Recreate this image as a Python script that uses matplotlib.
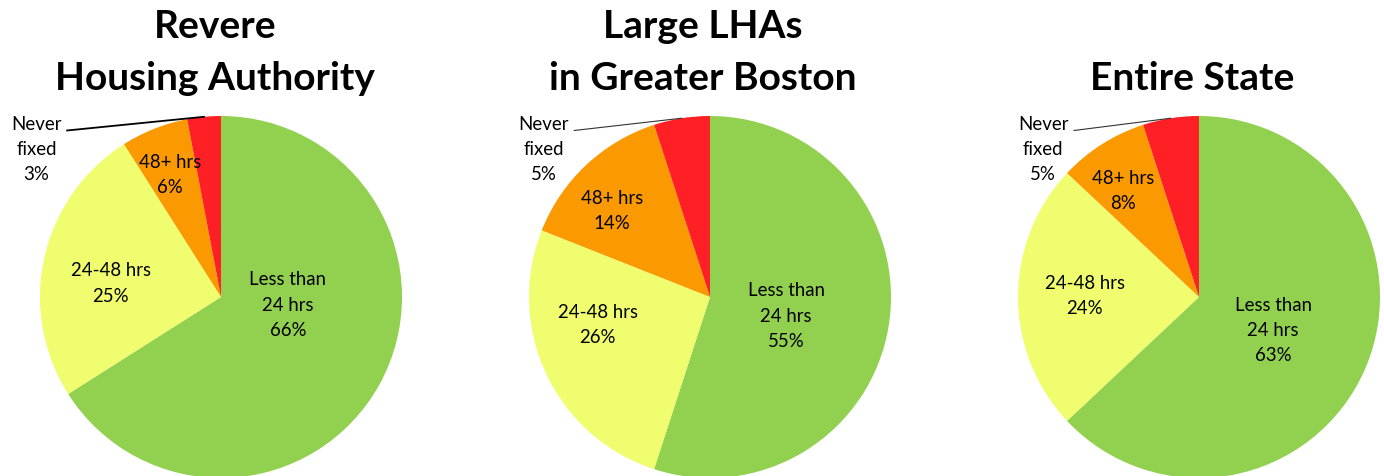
import numpy as np
import matplotlib.pyplot as plt

categories = ['Less than\n24 hrs', '24-48 hrs', '48+ hrs', 'Never\nfixed']
colors = ['#92D050', '#EFFD6E', '#FA9A00', '#FF2026']

revere = [66, 25, 6, 3]
boston = [55, 26, 14, 5]
state = [63, 24, 8, 5]
titles = [['Revere', 'Housing Authority'], ['Large LHAs', 'in Greater Boston'], ['Entire State']]

# label spots in radius units, Excel "best fit" style
label_pos = [
    [(0.37, -0.04), (-0.61, 0.08), (-0.28, 0.68), (-1.02, 0.82)],
    [(0.42, -0.10), (-0.62, -0.15), (-0.54, 0.48), (-0.92, 0.82)],
    [(0.41, -0.18), (-0.63, 0.01), (-0.42, 0.59), (-0.86, 0.82)],
]
centers_px = [221, 710, 1199]

W, H = 1384, 477
fig = plt.figure(figsize=(W / 100, H / 100), dpi=100)
plt.rcParams['font.family'] = ['Lato', 'DejaVu Sans']

r = 181
cy = H - 298
for i, vals in enumerate([revere, boston, state]):
    ax = fig.add_axes([(centers_px[i] - r) / W, (cy - r) / H, 2 * r / W, 2 * r / H])
    ax.pie(vals, colors=colors, startangle=90, counterclock=False,
           wedgeprops=dict(linewidth=0))
    ax.set_xlim(-1, 1)
    ax.set_ylim(-1, 1)
    ax.set_aspect('equal')
    for j, v in enumerate(vals):
        x, y = label_pos[i][j]
        ax.text(x, y, '%s\n%d%%' % (categories[j], v), ha='center', va='center',
                fontsize=13.4, linespacing=1.6, clip_on=False)
    # leader line for the tiny red slice
    a0 = 90 - 3.6 * sum(vals[:3])
    mid = np.deg2rad(a0 - 1.8 * vals[3])
    lx, ly = label_pos[i][3]
    ax.plot([lx + 0.17, np.cos(mid)], [ly + 0.1, np.sin(mid)],
            color='black' if i == 0 else '#333333', lw=1.3 if i == 0 else 0.8,
            clip_on=False)

title_x = [215, 703, 1192]
for i, t in enumerate(titles):
    # last line always sits at y=78 px, the one above at y=27 px
    for k, line in enumerate(t[::-1]):
        fig.text(title_x[i] / W, (H - 78 + 51 * k) / H, line, ha='center', va='center',
                 fontsize=28, fontweight='bold')

fig.savefig('out.png', dpi=100)
